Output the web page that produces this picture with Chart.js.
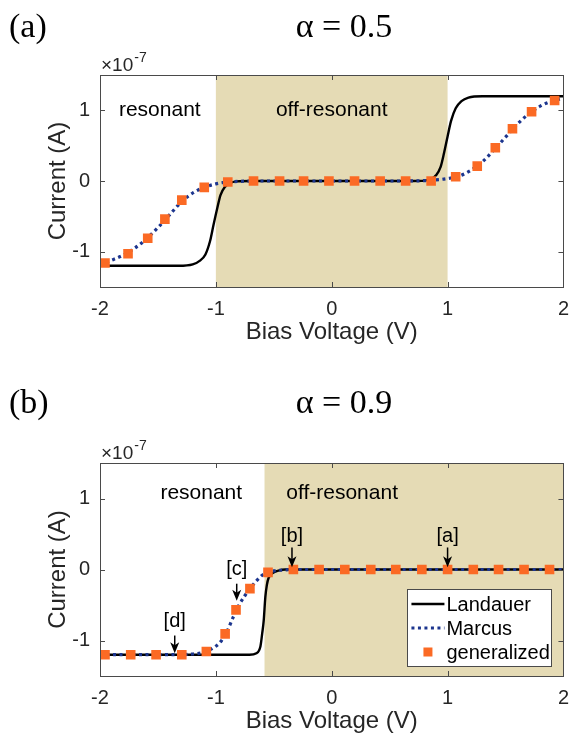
<!DOCTYPE html>
<html>
<head>
<meta charset="utf-8">
<script src="https://cdn.jsdelivr.net/npm/chart.js@4.4.1/dist/chart.umd.min.js"></script>
<style>
  body { margin: 0; background: #fff; }
  canvas { display: block; }
</style>
</head>
<body>
<canvas id="chartA" width="579" height="369"></canvas>
<canvas id="chartB" width="579" height="369"></canvas>
<script>
// tick labels
let xTicks = [-2, -1, 0, 1, 2];
let yTicks = [-1, 0, 1];
let seriesNames = ['Landauer', 'Marcus', 'generalized'];

// panel (a), alpha = 0.5
let landauerXa = [-2, -1.32, -1.2, -1.14, -1.09, -1.05, -1.02, -0.99, -0.96, -0.92, -0.88, -0.82, -0.7, 0, 0.7, 0.8, 0.86, 0.9, 0.94, 0.97, 1.0, 1.03, 1.07, 1.12, 1.18, 1.3, 2];
let landauerYa = [-1.2, -1.2, -1.18, -1.13, -1.04, -0.85, -0.62, -0.4, -0.2, -0.08, -0.03, -0.005, 0, 0, 0, 0.005, 0.03, 0.08, 0.2, 0.4, 0.63, 0.85, 1.03, 1.13, 1.18, 1.2, 1.2];
let marcusXa = [-2, -1.9, -1.8, -1.7, -1.6, -1.5, -1.4, -1.3, -1.2, -1.1, -1.0, -0.9, -0.8, -0.6, 0, 0.6, 0.8, 0.9, 1.0, 1.1, 1.2, 1.3, 1.4, 1.5, 1.6, 1.7, 1.8, 1.9, 2.0];
let marcusYa = [-1.18, -1.12, -1.05, -0.95, -0.82, -0.66, -0.48, -0.3, -0.17, -0.09, -0.04, -0.015, -0.005, 0, 0, 0, 0.005, 0.015, 0.035, 0.07, 0.15, 0.27, 0.44, 0.62, 0.8, 0.95, 1.06, 1.13, 1.17];
let genXa = [-1.957, -1.758, -1.588, -1.44, -1.294, -1.10, -0.897, -0.675, -0.45, -0.243, -0.024, 0.197, 0.418, 0.638, 0.858, 1.07, 1.256, 1.412, 1.56, 1.725, 1.924];
let genYa = [-1.16, -1.03, -0.81, -0.54, -0.27, -0.09, -0.015, 0, 0, 0, 0, 0, 0, 0, 0, 0.06, 0.21, 0.47, 0.74, 0.98, 1.14];

// panel (b), alpha = 0.9
let landauerXb = [-2, -0.71, -0.65, -0.615, -0.6, -0.587, -0.573, -0.56, -0.545, -0.51, -0.46, -0.4, 2];
let landauerYb = [-1.2, -1.2, -1.18, -1.08, -0.9, -0.72, -0.39, -0.22, -0.12, -0.05, -0.015, 0, 0];
let marcusXb = [-2, -1.3, -1.2, -1.1, -1.0, -0.95, -0.9, -0.85, -0.8, -0.75, -0.7, -0.65, -0.6, -0.55, -0.5, -0.4, -0.3, 2];
let marcusYb = [-1.2, -1.2, -1.19, -1.165, -1.08, -1.0, -0.86, -0.67, -0.5, -0.37, -0.26, -0.16, -0.08, -0.04, -0.02, -0.005, 0, 0];
let genXb = [-1.957, -1.735, -1.516, -1.294, -1.082, -0.92, -0.826, -0.706, -0.55, -0.331, -0.109, 0.113, 0.337, 0.553, 0.778, 1.0, 1.222, 1.44, 1.66, 1.88];
let genYb = [-1.2, -1.2, -1.2, -1.2, -1.155, -0.906, -0.568, -0.27, -0.04, 0, 0, 0, 0, 0, 0, 0, 0, 0, 0, 0];

// arrows in panel (b)
let annLabels = ['[a]', '[b]', '[c]', '[d]'];
let annX = [1.0, -0.343, -0.82, -1.355];
let annTextY = [0.46, 0.46, 0.0, -0.73];
let annTailY = [0.31, 0.31, -0.2, -0.93];
let annTipY = [0.03, 0.03, -0.44, -1.18];

const sans = '"Liberation Sans", Arial, sans-serif';
const serif = '"Liberation Serif", "Times New Roman", serif';
const shade = '#e5dbb5';
const blue = '#1c358e';
const orange = '#fb6a24';

function pts(xs, ys) {
  return xs.map((v, i) => ({ x: v, y: ys[i] }));
}

const panel = {
  id: 'panel',
  beforeDatasetsDraw(chart, args, o) {
    const { ctx, chartArea: a, scales: { x } } = chart;
    const x0 = x.getPixelForValue(o.shade[0]);
    const x1 = x.getPixelForValue(o.shade[1]);
    ctx.save();
    ctx.fillStyle = shade;
    ctx.fillRect(x0, a.top, x1 - x0, a.bottom - a.top);
    ctx.restore();
  },
  afterDatasetsDraw(chart, args, o) {
    const { ctx, chartArea: a, scales: { x, y } } = chart;
    ctx.save();
    ctx.strokeStyle = '#4a4a4a';
    ctx.lineWidth = 1;
    ctx.beginPath();
    xTicks.forEach(v => {
      const px = Math.round(x.getPixelForValue(v)) + 0.5;
      ctx.moveTo(px, a.bottom); ctx.lineTo(px, a.bottom - 5);
      ctx.moveTo(px, a.top); ctx.lineTo(px, a.top + 5);
    });
    yTicks.forEach(v => {
      const py = Math.round(y.getPixelForValue(v)) + 0.5;
      ctx.moveTo(a.left, py); ctx.lineTo(a.left + 5, py);
      ctx.moveTo(a.right, py); ctx.lineTo(a.right - 5, py);
    });
    ctx.stroke();
    ctx.strokeRect(Math.round(a.left) + 0.5, Math.round(a.top) + 0.5, Math.round(a.right - a.left), Math.round(a.bottom - a.top));
    ctx.restore();
  },
  afterDraw(chart, args, o) {
    const { ctx, chartArea: a, scales: { x, y } } = chart;
    ctx.save();
    ctx.fillStyle = '#000';
    // panel letter and title
    ctx.font = '34px ' + serif;
    ctx.textAlign = 'left';
    ctx.textBaseline = 'alphabetic';
    ctx.fillText(o.letter, 9, o.titleBase);
    ctx.textAlign = 'center';
    ctx.fillText(o.title, 344, o.titleBase);
    // exponent
    ctx.fillStyle = '#262626';
    ctx.textAlign = 'left';
    ctx.font = '19px ' + sans;
    ctx.fillText('\u00d710', a.left + 1, a.top - 4);
    const w = ctx.measureText('\u00d710').width;
    ctx.font = '14px ' + sans;
    ctx.fillText('-7', a.left + 2 + w, a.top - 13);
    // axis titles
    ctx.font = '24px ' + sans;
    ctx.textAlign = 'center';
    ctx.fillText('Bias Voltage (V)', (a.left + a.right) / 2, a.bottom + 52);
    ctx.save();
    ctx.translate(65, y.getPixelForValue(0));
    ctx.rotate(-Math.PI / 2);
    ctx.fillText('Current (A)', 0, 0);
    ctx.restore();
    // region labels
    ctx.fillStyle = '#000';
    ctx.font = '21px ' + sans;
    ctx.textBaseline = 'middle';
    o.regions.forEach(r => {
      ctx.fillText(r.text, x.getPixelForValue(r.x), y.getPixelForValue(r.y));
    });
    // arrows
    if (o.arrows) {
      ctx.font = '20px ' + sans;
      ctx.strokeStyle = '#000';
      ctx.lineWidth = 1.5;
      annLabels.forEach((t, i) => {
        const px = x.getPixelForValue(annX[i]);
        ctx.fillText(t, px, y.getPixelForValue(annTextY[i]));
        const t0 = y.getPixelForValue(annTailY[i]);
        const t1 = y.getPixelForValue(annTipY[i]);
        ctx.beginPath();
        ctx.moveTo(px, t0); ctx.lineTo(px, t1 - 4);
        ctx.stroke();
        ctx.beginPath();
        ctx.moveTo(px, t1);
        ctx.lineTo(px - 4.5, t1 - 11);
        ctx.lineTo(px, t1 - 8);
        ctx.lineTo(px + 4.5, t1 - 11);
        ctx.closePath();
        ctx.fill();
      });
    }
    // legend
    if (o.legend) {
      const bx = a.right - 156, by = a.bottom - 87, bw = 144, bh = 77;
      ctx.fillStyle = '#fff';
      ctx.fillRect(bx, by, bw, bh);
      ctx.strokeStyle = '#4a4a4a';
      ctx.lineWidth = 1;
      ctx.strokeRect(Math.round(bx) + 0.5, Math.round(by) + 0.5, bw, bh);
      ctx.font = '20px ' + sans;
      ctx.textAlign = 'left';
      ctx.textBaseline = 'middle';
      const rows = [by + 15, by + 39, by + 63];
      ctx.lineWidth = 2.5;
      ctx.strokeStyle = '#000';
      ctx.beginPath(); ctx.moveTo(bx + 4, rows[0]); ctx.lineTo(bx + 37, rows[0]); ctx.stroke();
      ctx.strokeStyle = blue;
      ctx.lineWidth = 3;
      ctx.setLineDash([3, 3.5]);
      ctx.beginPath(); ctx.moveTo(bx + 4, rows[1]); ctx.lineTo(bx + 37, rows[1]); ctx.stroke();
      ctx.setLineDash([]);
      ctx.fillStyle = orange;
      ctx.fillRect(bx + 16, rows[2] - 4.5, 9, 9);
      ctx.fillStyle = '#000';
      seriesNames.forEach((n, i) => ctx.fillText(n, bx + 39, rows[i] + 1));
    }
    ctx.restore();
  }
};

function makeChart(id, d, o) {
  new Chart(document.getElementById(id), {
    type: 'scatter',
    data: {
      datasets: [
        {
          label: seriesNames[2], data: pts(d.gx, d.gy), order: 1,
          pointStyle: 'rect', pointRadius: 6.8, pointHoverRadius: 6.8,
          backgroundColor: orange, borderColor: orange, borderWidth: 0, showLine: false
        },
        {
          label: seriesNames[1], data: pts(d.mx, d.my), order: 2, showLine: true,
          borderColor: blue, borderWidth: 3.2, borderDash: [3, 3.5], pointRadius: 0,
          cubicInterpolationMode: 'monotone', fill: false
        },
        {
          label: seriesNames[0], data: pts(d.lx, d.ly), order: 3, showLine: true,
          borderColor: '#000', borderWidth: 2.4, pointRadius: 0,
          cubicInterpolationMode: 'monotone', fill: false
        }
      ]
    },
    options: {
      responsive: false,
      animation: false,
      layout: { padding: { left: 0, right: 10, top: o.top, bottom: 0 } },
      scales: {
        x: {
          type: 'linear', min: -2, max: 2,
          ticks: { stepSize: 1, font: { family: sans, size: 20 }, color: '#262626', padding: 10, maxRotation: 0 },
          grid: { display: false, drawTicks: false },
          border: { display: false },
          afterFit(s) { s.height = o.xh; }
        },
        y: {
          type: 'linear', min: -1.5, max: 1.5,
          afterBuildTicks(s) { s.ticks = yTicks.map(v => ({ value: v })); },
          ticks: { font: { family: sans, size: 20 }, color: '#262626', padding: 10 },
          grid: { display: false, drawTicks: false },
          border: { display: false },
          afterFit(s) { s.width = 100; }
        }
      },
      plugins: {
        legend: { display: false },
        tooltip: { enabled: false },
        panel: o.panel
      }
    },
    plugins: [panel]
  });
}

makeChart('chartA',
  { lx: landauerXa, ly: landauerYa, mx: marcusXa, my: marcusYa, gx: genXa, gy: genYa },
  {
    top: 75, xh: 82,
    panel: {
      letter: '(a)', title: '\u03b1 = 0.5', titleBase: 37, shade: [-1, 1],
      regions: [{ text: 'resonant', x: -1.484, y: 1.0 }, { text: 'off-resonant', x: 0, y: 1.0 }],
      arrows: false, legend: false
    }
  });

makeChart('chartB',
  { lx: landauerXb, ly: landauerYb, mx: marcusXb, my: marcusYb, gx: genXb, gy: genYb },
  {
    top: 94, xh: 62,
    panel: {
      letter: '(b)', title: '\u03b1 = 0.9', titleBase: 44, shade: [-0.58, 2],
      regions: [{ text: 'resonant', x: -1.126, y: 1.08 }, { text: 'off-resonant', x: 0.09, y: 1.08 }],
      arrows: true, legend: true
    }
  });
</script>
</body>
</html>
